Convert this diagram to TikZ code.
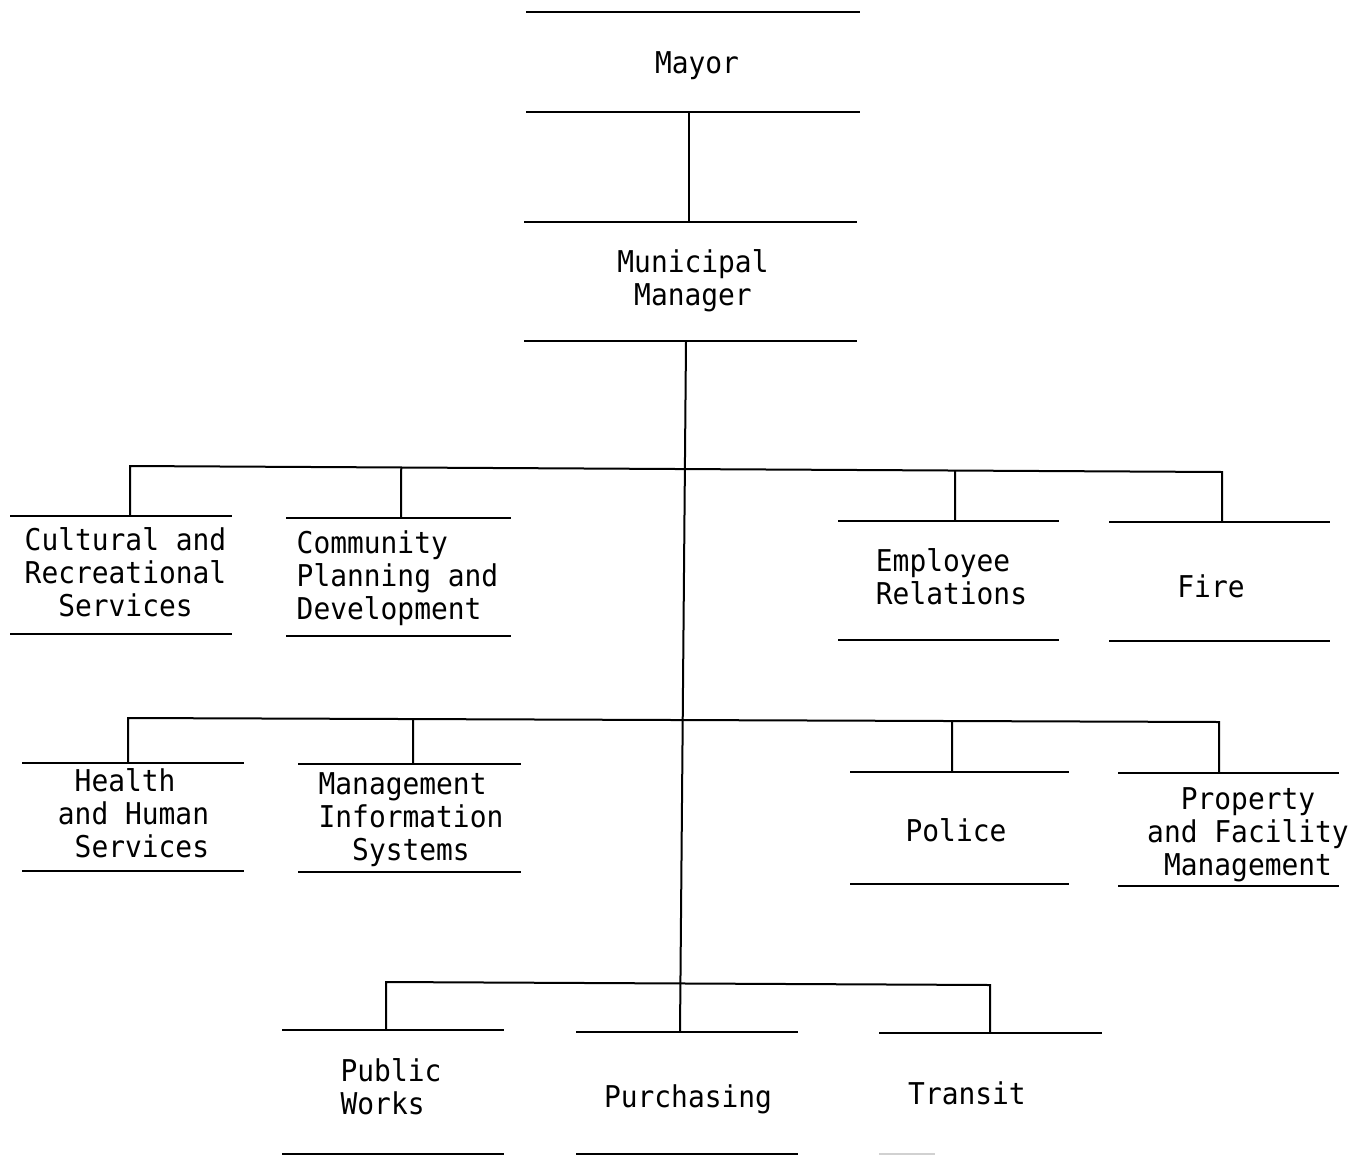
\documentclass[tikz,border=0pt]{standalone}
\usepackage{fontspec}
\newfontfamily\chartfont[FakeStretch=0.93]{DejaVu Sans Mono}
\usetikzlibrary{calc}
\tikzset{
  unitbox/.style n args={2}{minimum width=#1pt, minimum height=#2pt, inner sep=0pt, outer sep=0pt},
  lbl/.style={font=\chartfont\fontsize{30}{33}\selectfont, inner sep=0pt},
  boxline/.style={line width=2.6pt},
  conn/.style={line width=2pt},
}
\begin{document}
\begin{tikzpicture}[x=1pt,y=-1pt]
\useasboundingbox[fill=white] (0,0) rectangle (1364,1156);

% units
\node[unitbox={334}{100}, label={[lbl,align=center,xshift=4pt,yshift=-3.5pt]center:Mayor}] (mayor) at (693,62) {};
\node[unitbox={333}{119}, label={[lbl,align=center,xshift=2.5pt,yshift=1pt]center:{Municipal\\Manager}}] (mm) at (690.5,281.5) {};

\node[unitbox={222}{118}, label={[lbl,align=left,xshift=4.5pt,yshift=2.5pt]center:{Cultural and\\Recreational\\\hphantom{Re}Services}}] (cult) at (121,575) {};
\node[unitbox={225}{118}, label={[lbl,align=left,xshift=-1pt,yshift=-1pt]center:{Community\\Planning and\\Development}}] (comm) at (398.5,577) {};
\node[unitbox={221}{119}, label={[lbl,align=left,xshift=3pt,yshift=3.5pt]center:{Employee\\Relations}}] (emp) at (948.5,580.5) {};
\node[unitbox={221}{119}, label={[lbl,align=center,xshift=-8.5pt,yshift=-4.5pt]center:Fire}] (fire) at (1219.5,581.5) {};

\node[unitbox={222}{108}, label={[lbl,align=left,xshift=0.5pt,yshift=3.5pt]center:{\hphantom{a}Health\\and Human\\\hphantom{a}Services}}] (health) at (133,817) {};
\node[unitbox={223}{108}, label={[lbl,align=left,xshift=1.5pt,yshift=-1.5pt]center:{Management\\Information\\\hphantom{In}Systems}}] (mis) at (409.5,818) {};
\node[unitbox={219}{112}, label={[lbl,align=center,xshift=-3.5pt,yshift=-2pt]center:Police}] (police) at (959.5,828) {};
\node[unitbox={221}{113}, label={[lbl,align=center,xshift=19.5pt,yshift=-5pt]center:{Property\\and Facility\\Management}}] (prop) at (1228.5,829.5) {};

\node[unitbox={222}{124}, label={[lbl,align=left,xshift=-2pt,yshift=5.5pt]center:{Public\\Works}}] (pw) at (393,1092) {};
\node[unitbox={222}{122}, label={[lbl,align=center,xshift=1pt,yshift=-6.5pt]center:Purchasing}] (purch) at (687,1093) {};
\node[unitbox={223}{121}, label={[lbl,align=center,xshift=-23.5pt,yshift=0.5pt]center:Transit}] (transit) at (990.5,1093.5) {};

% box rules (top and bottom)
\foreach \n in {mayor,mm,cult,comm,emp,fire,health,mis,police,prop,pw,purch}
  \draw[boxline] (\n.north west) -- (\n.north east) (\n.south west) -- (\n.south east);
\draw[boxline] (transit.north west) -- (transit.north east);
\draw[boxline, black!18] (transit.south west) -- ++(56,0);

% mayor to manager
\coordinate (mayB) at ([xshift=-4pt]mayor.south);
\draw[conn] (mayB) -- (mayB |- mm.north);

% trunk
\draw[conn] ([xshift=-4.5pt]mm.south) -- ([xshift=-7pt]purch.north);

% row 1
\coordinate (b1L) at (130,466);
\coordinate (b1R) at (1222,472);
\draw[conn] ([xshift=9pt]cult.north) -- (b1L) -- (b1R) -- ([xshift=2.5pt]fire.north);
\coordinate (commT) at ([xshift=2.5pt]comm.north);
\coordinate (empT) at ([xshift=6.5pt]emp.north);
\draw[conn] (commT) -- ($(b1L)!(commT)!(b1R)$);
\draw[conn] (empT) -- ($(b1L)!(empT)!(b1R)$);

% row 2
\coordinate (b2L) at (128,718);
\coordinate (b2R) at (1219,722);
\draw[conn] ([xshift=-5pt]health.north) -- (b2L) -- (b2R) -- ([xshift=-9.5pt]prop.north);
\coordinate (misT) at ([xshift=3.5pt]mis.north);
\coordinate (polT) at ([xshift=-7.5pt]police.north);
\draw[conn] (misT) -- ($(b2L)!(misT)!(b2R)$);
\draw[conn] (polT) -- ($(b2L)!(polT)!(b2R)$);

% row 3
\coordinate (b3L) at (386,982);
\coordinate (b3R) at (990,985);
\draw[conn] ([xshift=-7pt]pw.north) -- (b3L) -- (b3R) -- ([xshift=-0.5pt]transit.north);
\end{tikzpicture}
\end{document}
